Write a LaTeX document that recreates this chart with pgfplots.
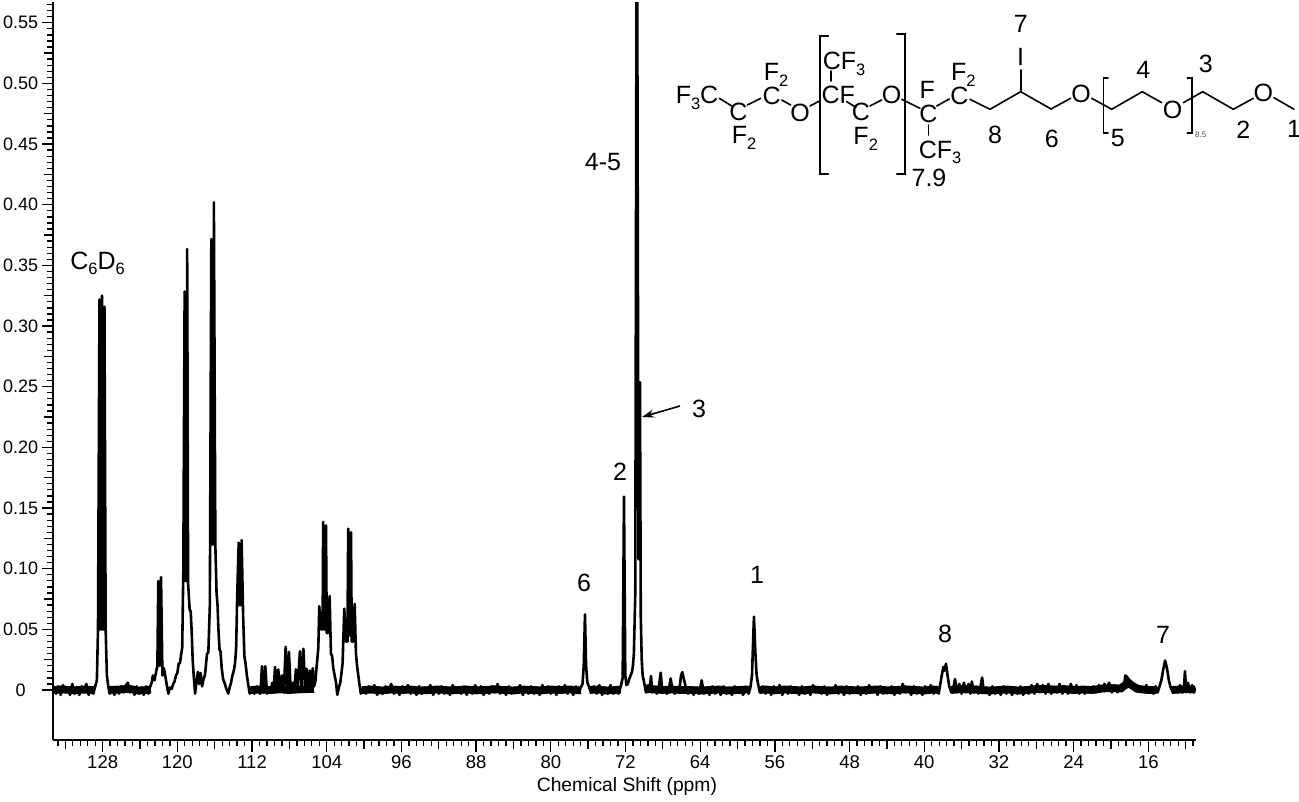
\documentclass[border=0pt]{standalone}
\usepackage{fontspec}
\setmainfont{Liberation Sans}
\usepackage{pgfplots}
\pgfplotsset{compat=1.18}
\usetikzlibrary{arrows.meta}

\newcommand{\lab}{\fontsize{25}{28}\selectfont}
\newcommand{\sub}[1]{\raisebox{-0.22em}{\fontsize{16.5}{17}\selectfont #1}}

\begin{document}
\begin{tikzpicture}
% page is 1299x801, 1pt = 1px of the reference
\path[use as bounding box] (0,0) rectangle (1299pt,801pt);

\begin{axis}[
    name=spec,
    at={(53.3pt,61pt)}, anchor=south west,
    scale only axis,
    width=1142.7pt, height=737.5pt,
    x dir=reverse,
    xmin=10.89, xmax=133.29,
    ymin=-0.0412, ymax=0.5667,
    axis x line*=bottom, axis y line*=left,
    axis line style={-, line width=1.7pt},
    xtick={136,128,120,112,104,96,88,80,72,64,56,48,40,32,24,16,8},
    minor x tick num=9,
    extra x ticks={132,124,116,108,100,92,84,76,68,60,52,44,36,28,20,12},
    extra x tick labels={},
    extra x tick style={major tick length=9pt},
    ytick={0,0.05,0.10,0.15,0.20,0.25,0.30,0.35,0.40,0.45,0.50,0.55},
    yticklabels={\makebox[35pt]{0},0.05,0.10,0.15,0.20,0.25,0.30,0.35,0.40,0.45,0.50,0.55},
    minor ytick={0.005,0.01,...,0.565},
    extra y ticks={0.025,0.075,0.125,0.175,0.225,0.275,0.325,0.375,0.425,0.475,0.525},
    extra y tick labels={},
    extra y tick style={major tick length=9pt},
    tick align=outside,
    xtick pos=bottom, ytick pos=left,
    major tick length=11.5pt, minor tick length=6pt,
    tick style={black, line width=1.3pt},
    /pgf/number format/assume math mode=true,
    ticklabel style={font=\fontsize{18.5}{20}\selectfont},
    xticklabel style={yshift=-1pt},
    yticklabel style={font=\fontsize{18}{20}\selectfont},
    xlabel={Chemical Shift (ppm)},
    xlabel style={font=\fontsize{19.3}{21}\selectfont, at={(axis description cs:0.502,0)}, anchor=center, yshift=-47pt},
    unbounded coords=jump,
]
% noise floor where the trace is flat, a thick band in the reference
\addplot[black, line width=7.8pt, line join=round] coordinates {
(133.25,0.0)(132.2,0.0005)(131.1,-0.0003)(130.1,0.0004)(129.1,0.0)(128.85,0.0)(128.85,nan)
(127.4,0.0)(126.3,0.0004)(125.2,0.001)(124.2,-0.0004)(123.2,0.0)(122.85,0.0004)(122.85,nan)
(112.15,0.0)(111.2,0.0004)(110.1,0.0)(109,0.0005)(108,0.0)(107,0.0005)(106,0.0008)(105.35,0.0008)(105.35,nan)
(100.25,0.0)(99.2,0.0004)(98.1,-0.0004)(97,0.0005)(96,0.0)(95,0.0004)(94,-0.0004)(93,0.0)(92,0.0005)(91,-0.0003)
(90,0.0)(89,0.0004)(88,-0.0003)(87,0.0)(86,0.0006)(85,0.0)(84,-0.0004)(83,0.0004)(82,0.0)(81,-0.0003)(80,0.0004)
(79,0.0)(78,0.0005)(77,-0.0003)(76.8,0.0)(76.8,nan)
(75.85,0.0)(75,0.0004)(74,-0.0004)(73,0.0)(72.5,0.0004)(72.5,nan)
(69.85,0.0006)(69,0.0006)(68,0.0)(67,0.0004)(66,0.0)(65,0.0)(64,-0.0004)(63,0.0)(62,0.0004)(61,-0.0004)(60,0.0)(59,0.0004)(58.65,0.0)(58.65,nan)
(57.65,0.0)(57,0.0004)(56,-0.0003)(55,0.0005)(54,0.0)(53,-0.0003)(52,0.0005)(51,0.0)(50,-0.0004)(49,0.0004)(48,0.0)
(47,-0.0003)(46,0.0)(45,0.0005)(44,-0.0003)(43,0.0)(42,0.0006)(41,0.0)(40,-0.0004)(39,0.0004)(38.5,0.0)(38.5,nan)
(37.15,0.0)(36,0.0008)(35,0.0006)(34,0.0)(33,-0.0004)(32,0.0)(31,0.0004)(30,-0.0004)(29,0.0)(28,0.0008)(27,0.0008)
(26,0.0004)(25,0.0008)(24,0.0)(23,0.0004)(22,0.0)(21,0.0012)(20,0.0016)(19,0.0012)(18.45,0.004)(18.2,0.0065)(17.8,0.004)(17.2,0.001)(16,0.0)
(15.1,0.0)(15.1,nan)
(13.5,0.0)(12.6,0.0004)(11.7,0.0008)(11.0,0.0004)
};
\addplot[black, line width=2.6pt, line join=round] coordinates {
(133.25,0.002)(133.0,-0.003)(132.75,0.003)(132.5,-0.004)(132.25,0.004)(132.0,-0.002)(131.75,0.002)(131.5,-0.004)
(131.25,0.005)(131.0,-0.003)(130.75,0.002)(130.5,-0.004)(130.25,0.003)(130.0,-0.002)(129.75,0.005)(129.5,-0.004)
(129.25,0.002)(129.0,-0.003)(128.8,0.003)(128.62,0.008)(128.5,0.05)
% C6D6
(128.34,0.322)(128.29,0.05)(128.12,0.05)(128.07,0.325)(128.02,0.05)(127.86,0.05)(127.81,0.316)(127.68,0.05)(127.55,0.012)(127.4,0.003)
(127.25,-0.003)(127.0,0.002)(126.75,-0.004)(126.5,0.002)(126.25,-0.003)(126.0,0.003)(125.75,-0.002)(125.5,0.004)
(125.3,0.006)(125.1,-0.002)(124.85,0.002)(124.6,-0.004)(124.35,0.003)(124.1,-0.003)(123.85,0.002)(123.6,-0.004)
(123.35,0.003)(123.1,-0.003)(122.9,0.003)(122.75,0.006)(122.62,0.012)(122.45,0.008)(122.3,0.014)(122.14,0.02)
(122.04,0.0898)(121.9,0.02)(121.75,0.093)(121.6,0.012)(121.45,0.018)(121.3,0.012)(121.15,0.005)(120.97,-0.003)
(120.8,0.002)(120.6,0.001)(120.45,0.005)(120.3,0.007)(120.15,0.012)(120.0,0.014)(119.85,0.022)(119.72,0.022)
(119.6,0.029)(119.48,0.035)(119.36,0.1)
(119.22,0.3285)(119.18,0.09)(118.99,0.09)(118.95,0.3634)(118.85,0.088)(118.68,0.066)(118.57,0.065)(118.45,0.045)(118.36,0.025)
(118.25,0.012)(118.1,-0.003)(117.95,0.007)(117.8,0.015)(117.65,0.005)(117.5,0.014)(117.35,0.003)(117.2,0.009)
(117.05,0.012)(116.92,0.022)(116.82,0.03)(116.68,0.031)(116.52,0.07)
(116.36,0.3717)(116.32,0.12)(116.13,0.12)(116.09,0.402)(115.93,0.1187)(115.8,0.08)(115.7,0.0705)(115.6,0.05)(115.48,0.033)
(115.38,0.032)(115.25,0.018)(115.1,0.009)(114.95,0.006)(114.75,0.001)(114.55,-0.003)(114.4,0.002)(114.25,0.006)
(114.1,0.012)(113.95,0.016)(113.82,0.022)(113.7,0.035)(113.6,0.075)
(113.43,0.1215)(113.37,0.07)(113.18,0.07)(113.12,0.1236)(112.95,0.06)(112.82,0.028)(112.7,0.022)(112.55,0.012)(112.4,0.004)
(112.25,-0.003)(112.0,0.002)(111.75,-0.003)(111.5,0.003)(111.25,-0.002)(111.1,-0.003)(110.94,0.0196)(110.76,-0.002)
(110.58,0.0196)(110.4,-0.003)(110.2,0.002)(110.0,-0.002)(109.85,0.006)(109.7,-0.002)(109.54,0.019)(109.36,0.001)
(109.19,0.017)(109.0,0.0)(108.8,0.012)(108.6,-0.002)(108.4,0.0356)(108.22,-0.002)(108.05,0.0315)(107.85,-0.002)
(107.6,0.006)(107.45,0.002)(107.3,0.017)(107.1,0.003)(106.87,0.032)(106.7,0.001)(106.5,0.034)(106.3,0.001)
(106.15,0.0175)(105.97,0.002)(105.8,0.016)(105.65,0.003)(105.5,0.018)(105.35,0.003)(105.2,0.008)(105.1,0.018)
(105.0,0.026)(104.9,0.035)
(104.8,0.069)(104.62,0.05)(104.44,0.05)(104.38,0.1385)(104.32,0.05)(104.15,0.05)(104.08,0.1357)(104.0,0.047)(103.87,0.047)(103.69,0.0774)(103.55,0.03)
(103.42,0.028)(103.3,0.018)(103.15,0.012)(103.0,0.006)(102.87,-0.004)(102.7,0.002)(102.55,0.006)(102.42,0.014)
(102.3,0.022)(102.12,0.067)(101.95,0.04)(101.78,0.04)(101.7,0.133)(101.64,0.045)(101.46,0.045)(101.4,0.13)(101.32,0.04)(101.15,0.04)(101.01,0.071)
(100.87,0.03)(100.75,0.02)(100.62,0.012)(100.5,0.005)(100.35,-0.003)
% baseline
(100.1,0.002)(99.8,-0.003)(99.5,0.003)(99.2,-0.002)(98.9,0.004)(98.6,-0.004)(98.3,0.002)(98.0,-0.003)(97.7,0.003)
(97.4,-0.002)(97.1,0.005)(96.8,-0.003)(96.5,0.002)(96.2,-0.004)(95.9,0.003)(95.6,-0.002)(95.3,0.004)(95.0,-0.003)
(94.7,0.002)(94.4,-0.004)(94.1,0.003)(93.8,-0.003)(93.5,0.002)(93.2,-0.002)(92.9,0.004)(92.6,-0.004)(92.3,0.002)
(92.0,-0.003)(91.7,0.003)(91.4,-0.003)(91.1,0.002)(90.8,-0.004)(90.5,0.004)(90.2,-0.002)(89.9,0.002)(89.6,-0.003)
(89.3,0.003)(89.0,-0.004)(88.7,0.002)(88.4,-0.003)(88.1,0.004)(87.8,-0.002)(87.5,0.003)(87.2,-0.004)(86.9,0.002)
(86.6,-0.003)(86.3,0.003)(86.0,-0.002)(85.7,0.005)(85.4,-0.003)(85.1,0.002)(84.8,-0.004)(84.5,0.003)(84.2,-0.003)
(83.9,0.002)(83.6,-0.002)(83.3,0.004)(83.0,-0.004)(82.7,0.002)(82.4,-0.003)(82.1,0.003)(81.8,-0.003)(81.5,0.002)
(81.2,-0.004)(80.9,0.004)(80.6,-0.002)(80.3,0.003)(80.0,-0.003)(79.7,0.002)(79.4,-0.004)(79.1,0.003)(78.8,-0.002)
(78.5,0.004)(78.2,-0.003)(77.9,0.002)(77.6,-0.004)(77.3,0.003)(77.0,-0.002)
% 6
(76.8,0.002)(76.6,0.005)(76.47,0.02)(76.34,0.0623)(76.22,0.02)(76.08,0.006)(75.92,0.003)
(75.7,-0.002)(75.4,0.003)(75.1,-0.003)(74.8,0.004)(74.5,-0.004)(74.2,0.002)(73.9,-0.003)(73.6,0.004)(73.3,-0.003)
(73.0,0.002)(72.75,-0.003)(72.5,0.003)
% 2, 4-5, 3
(72.3,0.01)(72.16,0.1594)(72.02,0.012)(71.9,0.004)(71.75,0.005)(71.6,0.009)(71.45,0.012)(71.3,0.015)(71.2,0.02)
(71.1,0.03)(70.95,0.08)(70.82,0.58)(70.74,0.58)(70.6,0.1077)(70.45,0.2537)(70.36,0.06)(70.26,0.025)
(70.16,0.012)(70.0,0.006)(69.8,-0.002)(69.6,0.004)(69.42,-0.001)(69.27,0.0115)(69.12,-0.002)(68.9,0.002)
(68.65,-0.003)(68.45,0.001)(68.23,0.0143)(68.05,-0.002)(67.8,0.002)(67.55,-0.003)(67.35,0.001)(67.16,0.0095)
(66.95,-0.001)(66.7,-0.003)(66.45,0.002)(66.2,0.002)(66.05,0.012)(65.92,0.0147)(65.75,0.009)(65.55,0.003)(65.3,-0.003)
(65.0,0.002)(64.7,-0.004)(64.4,0.002)(64.1,-0.003)(63.84,0.008)(63.6,-0.003)(63.3,0.002)(63.0,-0.004)(62.7,0.003)
(62.4,-0.003)(62.1,0.002)(61.8,-0.004)(61.5,0.003)(61.2,-0.003)(60.9,0.002)(60.6,-0.004)(60.3,0.003)(60.0,-0.002)
(59.7,0.002)(59.4,-0.004)(59.1,0.002)(58.8,-0.003)(58.6,0.003)
% 1
(58.45,0.012)(58.24,0.0604)(58.08,0.03)(57.95,0.012)(57.8,0.005)(57.6,-0.002)(57.3,0.003)(57.0,-0.003)(56.7,0.002)
(56.4,-0.004)(56.1,0.003)(55.8,-0.002)(55.5,0.004)(55.2,-0.004)(54.9,0.002)(54.6,-0.003)(54.3,0.003)(54.0,-0.002)
(53.7,0.002)(53.4,-0.004)(53.1,0.003)(52.8,-0.003)(52.5,0.002)(52.2,-0.004)(51.9,0.004)(51.6,-0.002)(51.3,0.002)
(51.0,-0.003)(50.7,0.003)(50.4,-0.004)(50.1,0.002)(49.8,-0.002)(49.5,0.004)(49.2,-0.003)(48.9,0.002)(48.6,-0.004)
(48.3,0.003)(48.0,-0.003)(47.7,0.002)(47.4,-0.002)(47.1,0.003)(46.8,-0.004)(46.5,0.002)(46.2,-0.003)(45.9,0.004)
(45.6,-0.002)(45.3,0.002)(45.0,-0.004)(44.7,0.003)(44.4,-0.003)(44.1,0.002)(43.8,-0.002)(43.5,0.003)(43.2,-0.004)
(42.9,0.002)(42.6,-0.003)(42.3,0.005)(42.0,-0.002)(41.7,0.002)(41.4,-0.004)(41.1,0.003)(40.8,-0.003)(40.5,0.002)
(40.2,-0.004)(39.9,0.003)(39.6,-0.002)(39.3,0.004)(39.0,-0.003)(38.7,0.002)(38.45,-0.003)
% 8
(38.3,0.004)(38.12,0.012)(37.95,0.019)(37.85,0.016)(37.67,0.0216)(37.5,0.012)(37.32,0.003)(37.1,-0.002)(36.9,0.001)
(36.7,0.009)(36.5,-0.002)(36.25,0.005)(36.0,-0.003)(35.75,0.006)(35.5,-0.002)(35.25,0.005)(35.05,-0.003)(34.9,0.007)
(34.7,-0.002)(34.45,0.003)(34.2,-0.003)(34.0,0.002)(33.8,0.0103)(33.6,-0.002)(33.3,0.002)(33.0,-0.004)(32.7,0.003)
(32.4,-0.003)(32.1,0.002)(31.8,-0.004)(31.5,0.003)(31.2,-0.003)(30.9,0.002)(30.6,-0.004)(30.3,0.002)(30.0,-0.003)
(29.7,0.003)(29.4,-0.004)(29.1,0.002)(28.8,-0.003)(28.5,0.004)(28.2,-0.003)(27.9,0.005)(27.6,-0.002)(27.3,0.004)
(27.0,-0.003)(26.7,0.005)(26.4,-0.003)(26.1,0.002)(25.8,-0.002)(25.5,0.005)(25.2,-0.003)(24.9,0.002)(24.6,-0.003)
(24.3,0.005)(24.0,-0.002)(23.7,0.004)(23.4,-0.003)(23.1,0.002)(22.8,-0.003)(22.5,0.002)(22.2,-0.002)(21.9,0.003)
(21.6,-0.002)(21.3,0.004)(21.0,-0.001)(20.7,0.005)(20.45,0.001)(20.2,0.006)(19.9,-0.002)(19.6,0.004)(19.3,-0.002)
(19.0,0.003)(18.8,-0.001)(18.6,0.004)
(18.45,0.012)(18.3,0.011)(18.1,0.009)(17.9,0.006)(17.7,0.006)(17.45,0.001)(17.2,0.004)(16.95,0.0)(16.7,0.002)
(16.45,-0.002)(16.2,0.004)(15.95,-0.002)(15.7,0.002)(15.45,-0.003)(15.2,0.003)(15.0,-0.002)
% 7
(14.8,0.003)(14.6,0.008)(14.42,0.016)(14.2,0.0243)(14.0,0.018)(13.8,0.008)(13.6,0.002)(13.35,-0.002)(13.1,0.002)
(12.85,-0.002)(12.6,0.004)(12.35,-0.002)(12.2,0.0)(12.07,0.0155)(11.95,0.0)(11.75,0.006)(11.5,-0.002)(11.3,0.004)
(11.1,-0.002)(10.95,0.002)
};
\end{axis}

% peak labels and structure, in pixels of the reference from the top left corner
\begin{scope}[shift={(0,801pt)}, x=1pt, y=-1pt]
\tikzset{t/.style={font=\lab, inner sep=0pt, anchor=base, yshift=-9pt}, b/.style={line width=1.6pt, line cap=round, line join=miter}}

\node[t] at (97.5,260.5) {C\sub{6}D\sub{6}};
\node[t] at (603,162) {4-5};
\node[t] at (584,583) {6};
\node[t] at (620,472) {2};
\node[t] at (699,409) {3};
\node[t] at (757,575) {1};
\node[t] at (945,634) {8};
\node[t] at (1163,635) {7};
\draw[line width=1.6pt, -{Stealth[length=12pt,width=8pt]}] (680,406) -- (642,417);

% left end of the chain
\node[t] at (697,95) {F\sub{3}C};
\draw[b] (719.3,98.3) -- (731.7,106);
\node[t] at (738.3,111.7) {C};
\node[t] at (744,135) {F\sub{2}};
\draw[b] (747.3,105) -- (760.7,98.3);
\node[t] at (771.7,95.7) {C};
\node[t] at (776,71.7) {F\sub{2}};
\draw[b] (781.7,100) -- (790.7,105);
\node[t] at (800,112.3) {O};
\draw[b] (810,106) -- (820,100.7);
% first bracket
\draw[b] (828.3,36) -- (820,36) -- (820,174.3) -- (828.3,174.3);
\draw[b] (896.7,34) -- (905,34) -- (905,174.3) -- (896.7,174.3);
\node[t] at (838.3,95) {CF};
\node[t] at (844,60.7) {CF\sub{3}};
\draw[b] (831,71) -- (831,81);
\draw[b] (846.7,101.7) -- (856,107.3);
\node[t] at (861,111.7) {C};
\node[t] at (865.7,136) {F\sub{2}};
\draw[b] (870,106) -- (881.7,100);
\node[t] at (891.7,95) {O};
\draw[b] (901.7,99.3) -- (920,108.3);
\node[t] at (928.3,113.3) {C};
\node[t] at (927.3,90) {F};
\draw[b] (928.3,125) -- (928.3,135);
\node[t] at (940,149.3) {CF\sub{3}};
\node[t] at (929,177.7) {7.9};
\draw[b] (936.7,106) -- (949.3,99);
\node[t] at (959.3,95.7) {C};
\node[t] at (963.3,71.7) {F\sub{2}};
% alkyl part and PEG
\draw[b] (970,99.3) -- (990,109.3) -- (1020.7,91.7) -- (1051,109) -- (1070.7,98.3);
\draw[b] (1020.7,91.7) -- (1020.7,70);
\node[t] at (1020.7,57) {I};
\node[t] at (1020.7,24) {7};
\node[t] at (1081,93.3) {O};
\draw[b] (1091.7,98.3) -- (1111.7,109.3) -- (1142.3,91.7) -- (1161.7,102.7);
\node[t] at (1172.7,109.3) {O};
\draw[b] (1183.3,102.7) -- (1202.7,91.7) -- (1233.3,109.3) -- (1253.3,98.3);
\node[t] at (1263.3,92.3) {O};
\draw[b] (1274,97.7) -- (1294,109.3);
\draw[b] (1108,78.3) -- (1103.3,78.3) -- (1103.3,133.3) -- (1108,133.3);
\draw[b] (1187.3,78.3) -- (1191.7,78.3) -- (1191.7,133.3) -- (1187.3,133.3);
\node[font=\fontsize{8}{9}\selectfont, inner sep=0pt, text=black!70] at (1200.7,135) {8.5};
\node[t] at (995,134.3) {8};
\node[t] at (1051.7,138.3) {6};
\node[t] at (1117.7,137.3) {5};
\node[t] at (1143.3,69.3) {4};
\node[t] at (1205.7,63.3) {3};
\node[t] at (1243.3,129.3) {2};
\node[t] at (1294,128.3) {1};
\end{scope}
\end{tikzpicture}
\end{document}
